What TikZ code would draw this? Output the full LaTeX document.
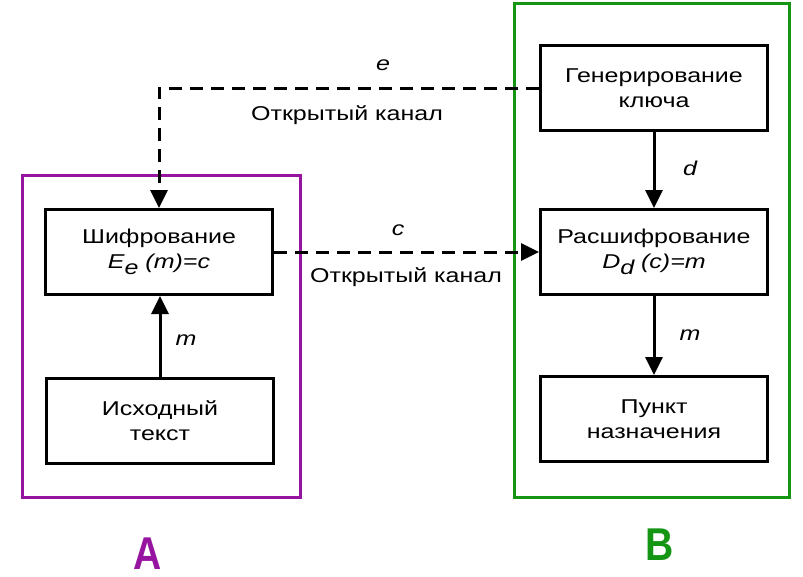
\documentclass[tikz,border=0pt]{standalone}
\usepackage{fontspec}
\setmainfont[FakeStretch=1.25]{Liberation Sans}
\newfontfamily\labelfont[FakeStretch=0.85]{Liberation Sans}
\usetikzlibrary{arrows.meta}
\definecolor{frameA}{RGB}{150,20,160}
\definecolor{frameB}{RGB}{20,150,20}
\begin{document}
\begin{tikzpicture}[x=1pt,y=-1pt,
  box/.style={draw,line width=3pt,minimum width=227pt,minimum height=85pt,align=center,inner sep=0pt,font=\fontsize{20}{25}\selectfont},
  txt/.style={font=\fontsize{20}{25}\selectfont,inner sep=0pt},
  lbl/.style={font=\fontsize{20}{25}\selectfont\itshape,inner sep=0pt},
  link/.style={line width=3pt,-{Triangle[length=18pt,width=17pt]}},
  chan/.style={link,dash pattern=on 13pt off 8pt},
  frame/.style={line width=3pt},
  big/.style={font=\labelfont\bfseries\fontsize{46}{46}\selectfont,inner sep=0pt,anchor=base},
]
\useasboundingbox (0,0) rectangle (803,576);
% frames
\draw[frame,frameA] (22,175) rectangle (300,497);
\draw[frame,frameB] (514,3) rectangle (789,497);
% boxes
\node[box] (enc) at (159,252) {Шифрование\\{\itshape E\raisebox{-6pt}{e} (m)=c}};
\node[box] (src) at (160,421) {Исходный\\текст};
\node[box] (gen) at (654,88) {Генерирование\\ключа};
\node[box] (dec) at (654,252) {Расшифрование\\{\itshape D\raisebox{-6pt}{d} (c)=m}};
\node[box] (dst) at (654,419) {Пункт\\назначения};
% connectors
\draw[chan] (gen.west) -| (enc.north);
\draw[chan] (enc.east) -- (dec.west);
\draw[link] (src.north) -- (src.north |- enc.south);
\draw[link] (gen.south) -- (dec.north);
\draw[link] (dec.south) -- (dst.north);
% labels
\node[lbl] (le) at (383,65) {e};
\node[txt] (ch1) at (347,115) {Открытый канал};
\node[lbl] (lc) at (398,230) {c};
\node[txt] (ch2) at (406,277) {Открытый канал};
\node[lbl] (lm1) at (186,340) {m};
\node[lbl] (ld) at (690,168) {d};
\node[lbl] (lm2) at (690,335) {m};
\node[big,text=frameA] (A) at (148,569) {A};
\node[big,text=frameB] (B) at (660,560) {B};
\end{tikzpicture}
\end{document}
